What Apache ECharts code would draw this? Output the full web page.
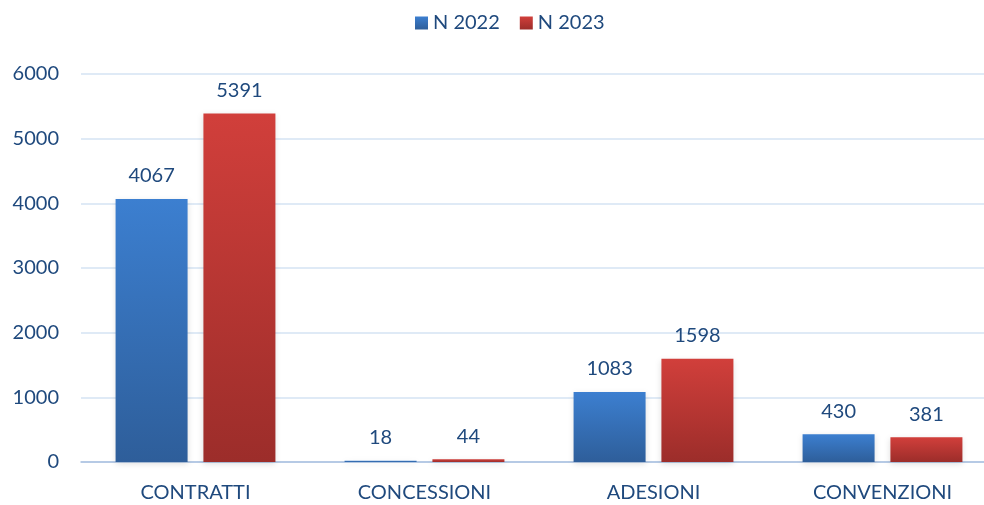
<!DOCTYPE html>
<html>
<head>
<meta charset="utf-8">
<script src="https://cdn.jsdelivr.net/npm/echarts@6/dist/echarts.min.js"></script>
<style>
  html, body { margin: 0; padding: 0; background: #fff; }
  #chart { width: 984px; height: 505px; }
</style>
</head>
<body>
<div id="chart"></div>
<script>
const categories = ['CONTRATTI', 'CONCESSIONI', 'ADESIONI', 'CONVENZIONI']
const n2022 = [4067, 18, 1083, 430]
const n2023 = [5391, 44, 1598, 381]
const yTicks = { min: 0, max: 6000, interval: 1000 }

const textColor = '#1f497d'
const font = 'Lato'
const fs = 20

const grad = (top, bottom) => new echarts.graphic.LinearGradient(0, 0, 0, 1, [
  { offset: 0, color: top },
  { offset: 1, color: bottom }
])

const barStyle = (top, bottom) => ({
  color: grad(top, bottom),
  shadowColor: 'rgba(0,0,0,0.12)',
  shadowBlur: 6,
  shadowOffsetY: 2
})

const chart = echarts.init(document.getElementById('chart'))
chart.setOption({
  animation: false,
  textStyle: { fontFamily: font },
  legend: {
    top: 8,
    left: 410,
    itemWidth: 13,
    itemHeight: 13,
    itemGap: 20,
    icon: 'rect',
    textStyle: { color: textColor, fontSize: fs, fontFamily: font }
  },
  grid: { left: 81, width: 916, top: 74, bottom: 43, outerBoundsMode: 'none', containLabel: false },
  xAxis: {
    type: 'category',
    data: categories,
    axisLine: { lineStyle: { color: '#a9c0e0', width: 1.5 } },
    axisTick: { show: false },
    axisLabel: { color: textColor, fontSize: fs, margin: 21, fontFamily: font }
  },
  yAxis: {
    type: 'value',
    min: yTicks.min,
    max: yTicks.max,
    interval: yTicks.interval,
    axisLine: { show: false },
    axisTick: { show: false },
    axisLabel: { color: textColor, fontSize: fs, margin: 22, fontFamily: font, formatter: (v) => String(v) },
    splitLine: { lineStyle: { color: '#d5e3f3', width: 1.5 } }
  },
  series: [
    {
      name: 'N 2022',
      type: 'bar',
      data: n2022,
      barWidth: 72,
      barGap: '22%',
      itemStyle: barStyle('#3c7fd0', '#2e5e9a'),
      label: { show: true, position: 'top', distance: 13, color: textColor, fontSize: fs, fontFamily: font }
    },
    {
      name: 'N 2023',
      type: 'bar',
      data: n2023,
      barWidth: 72,
      itemStyle: barStyle('#d13f3b', '#9c2d2a'),
      label: { show: true, position: 'top', distance: 13, color: textColor, fontSize: fs, fontFamily: font }
    }
  ]
})
</script>
</body>
</html>
